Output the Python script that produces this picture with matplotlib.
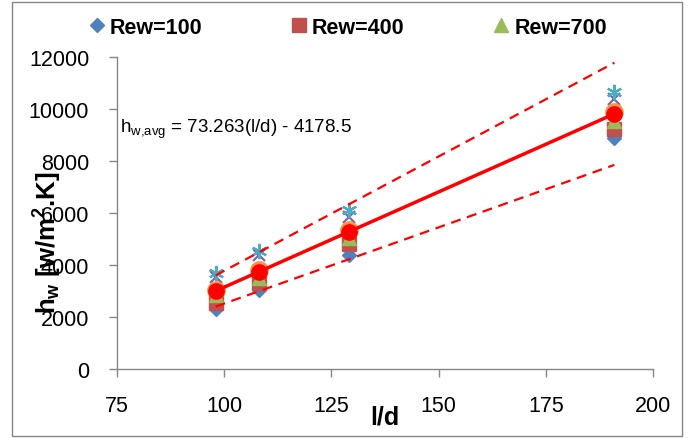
import matplotlib
matplotlib.use("Agg")
import matplotlib.pyplot as plt
from matplotlib.patches import Rectangle

# l/d positions of the measurements
l_d = [98, 108, 129, 191]

# h_w values, one list per series
rew_100 = [2300, 3050, 4400, 8900]
rew_400 = [2550, 3300, 4800, 9250]
rew_700 = [2850, 3500, 5050, 9550]
series_4 = [3550, 4400, 5850, 10400]
series_5 = [3700, 4550, 6100, 10650]
series_6 = [3050, 3800, 5350, 9900]
h_avg = [3000, 3740, 5270, 9820]

# fit line and its +/-20% band (end points)
fit_x = [98, 191]
fit_y = [3001, 9815]
upper_y = [3600, 11780]
lower_y = [2400, 7850]

legend_labels = ["Rew=100", "Rew=400", "Rew=700"]
equation = r"h$_{\mathregular{w{,}avg}}$ = 73.263(l/d) - 4178.5"

plt.rcParams["font.family"] = ["Liberation Sans", "DejaVu Sans"]
plt.rcParams["mathtext.fontset"] = "custom"
plt.rcParams["mathtext.rm"] = "Liberation Sans"
plt.rcParams["mathtext.bf"] = "Liberation Sans:bold"

fig = plt.figure(figsize=(6.95, 4.39), dpi=100)
ax = fig.add_axes([117 / 695, 1 - 370 / 439, 536 / 695, 312 / 439])

# outer chart border
fig.patches.append(Rectangle((12 / 695, 2 / 439), 670 / 695, 434 / 439,
                             transform=fig.transFigure, fill=False,
                             edgecolor="#868686", linewidth=1.0))

ax.plot(l_d, rew_100, "D", color="#4F81BD", ms=7.5, mec="#4F81BD", label=legend_labels[0], zorder=3)
ax.plot(l_d, rew_400, "s", color="#C0504D", ms=10, mec="#C0504D", label=legend_labels[1], zorder=3)
ax.plot(l_d, rew_700, "^", color="#9BBB59", ms=10.5, mec="#9BBB59", label=legend_labels[2], zorder=3)
ax.plot(l_d, series_4, "x", color="#8064A2", ms=9, mew=1.6, zorder=3)
ax.plot(l_d, series_5, marker=(6, 2, 0), ls="none", color="#4BACC6", ms=11, mew=1.6, zorder=3)
ax.plot(l_d, series_6, "o", color="#F79646", ms=12.5, mec="#F79646", zorder=3)

ax.plot(fit_x, upper_y, "--", color="red", lw=1.6, dashes=(4.5, 3), zorder=4)
ax.plot(fit_x, lower_y, "--", color="red", lw=1.6, dashes=(4.5, 3), zorder=4)
ax.plot(fit_x, fit_y, "-", color="red", lw=2.5, zorder=4)
ax.plot(l_d, h_avg, "o", color="red", ms=11, mec="red", zorder=5)

ax.set_xlim(75, 200)
ax.set_ylim(0, 12000)
ax.set_xticks(range(75, 201, 25))
ax.set_yticks(range(0, 12001, 2000))

for side in ["top", "right"]:
    ax.spines[side].set_visible(False)
for side in ["left", "bottom"]:
    ax.spines[side].set_color("#868686")
    ax.spines[side].set_linewidth(1.0)
ax.tick_params(axis="both", colors="#868686", labelcolor="black", labelsize=15.5,
               length=6, width=1.0, direction="out")
ax.tick_params(axis="y", pad=14)
ax.tick_params(axis="x", pad=13)

ax.text(75.6, 9250, equation, fontsize=13.5, ha="left", va="center")

fig.text(47 / 695, 1 - 243 / 439, r"$\mathbf{h_w}$ [w/m$^{\mathbf{2}}$.K]", rotation=90,
         fontsize=18.5, fontweight="bold", ha="center", va="center")
fig.text(385 / 695, 1 - 418 / 439, "l/d", fontsize=18, fontweight="bold",
         ha="center", va="center")

fig.legend(loc="center", bbox_to_anchor=(0.50, 1 - 28 / 439), ncol=3, frameon=False,
           prop={"family": ["Liberation Sans Narrow", "Liberation Sans"], "weight": "bold", "size": 15.5},
           handlelength=0.8, handletextpad=0.2, columnspacing=4.1, markerscale=1.0)

fig.savefig("out.png", dpi=100)
